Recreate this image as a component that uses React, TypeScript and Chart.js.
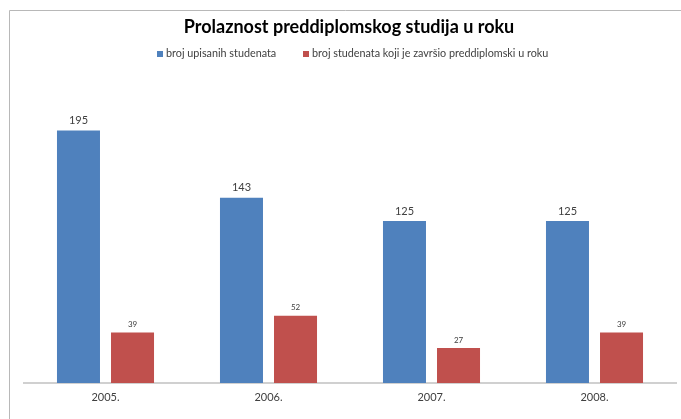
import React, { useEffect, useRef } from "react";
import { Chart, registerables } from "chart.js";

Chart.register(...registerables);

const TITLE = "Prolaznost preddiplomskog studija u roku";
const CATEGORIES = ["2005.", "2006.", "2007.", "2008."];
const SERIES_NAMES = ["broj upisanih studenata", "broj studenata koji je završio preddiplomski u roku"];
const ENROLLED = [195, 143, 125, 125];
const GRADUATED = [39, 52, 27, 39];
const COLORS = ["#4f81bd", "#c0504d"];

const FONT = "Lato, 'Open Sans', sans-serif";

const framePlugin = {
  id: "frame",
  beforeDraw(chart: any) {
    const ctx = chart.ctx;
    ctx.save();
    ctx.fillStyle = "#ffffff";
    ctx.fillRect(0, 0, chart.width, chart.height);
    ctx.strokeStyle = "#b8b8b8";
    ctx.lineWidth = 1;
    ctx.beginPath();
    ctx.moveTo(9.5, chart.height + 2);
    ctx.lineTo(9.5, 10.5);
    ctx.lineTo(chart.width + 2, 10.5);
    ctx.stroke();
    ctx.restore();
  },
};

const headerPlugin = {
  id: "header",
  afterDraw(chart: any) {
    const ctx = chart.ctx;
    ctx.save();
    ctx.fillStyle = "#000000";
    ctx.font = `bold 18px ${FONT}`;
    ctx.textAlign = "center";
    ctx.textBaseline = "alphabetic";
    ctx.fillText(TITLE, 349, 33);

    ctx.font = `10.8px ${FONT}`;
    ctx.textAlign = "left";
    ctx.textBaseline = "middle";
    const starts = [157, 303];
    chart.data.datasets.forEach((ds: any, i: number) => {
      const x = starts[i];
      ctx.fillStyle = ds.backgroundColor;
      ctx.fillRect(x, 51, 6, 6);
      ctx.fillStyle = "#404040";
      ctx.fillText(ds.label, x + 9, 54);
    });
    ctx.restore();
  },
};

const valueLabelPlugin = {
  id: "valueLabels",
  afterDatasetsDraw(chart: any) {
    const ctx = chart.ctx;
    ctx.save();
    ctx.fillStyle = "#404040";
    ctx.textAlign = "center";
    ctx.textBaseline = "middle";
    chart.data.datasets.forEach((ds: any, di: number) => {
      const meta = chart.getDatasetMeta(di);
      ctx.font = di === 0 ? `11px ${FONT}` : `8px ${FONT}`;
      const off = di === 0 ? 10 : 8;
      meta.data.forEach((bar: any, i: number) => {
        ctx.fillText(String(ds.data[i]), bar.x, bar.y - off);
      });
    });
    ctx.restore();
  },
};

export default function App() {
  const ref = useRef<HTMLCanvasElement>(null);
  useEffect(() => {
    if (!ref.current) return;
    const chart = new Chart(ref.current, {
      type: "bar",
      data: {
        labels: CATEGORIES,
        datasets: [
          { label: SERIES_NAMES[0], data: ENROLLED, backgroundColor: COLORS[0] },
          { label: SERIES_NAMES[1], data: GRADUATED, backgroundColor: COLORS[1] },
        ],
      },
      options: {
        responsive: false,
        animation: false,
        devicePixelRatio: 1,
        layout: { padding: { top: 98, left: 24, right: 5, bottom: 0 } },
        categoryPercentage: 0.663,
        barPercentage: 0.796,
        plugins: {
          legend: { display: false },
          title: { display: false },
          tooltip: { enabled: false },
        },
        scales: {
          x: {
            grid: { display: false, drawTicks: false },
            border: { display: true, color: "#d0d0d0", width: 2 },
            ticks: { color: "#404040", font: { family: FONT, size: 11 }, padding: 8 },
            afterFit(scale: any) {
              scale.height = 36;
            },
          },
          y: {
            display: false,
            min: 0,
            max: 220,
          },
        },
      } as any,
      plugins: [framePlugin, headerPlugin, valueLabelPlugin],
    });
    return () => chart.destroy();
  }, []);
  return (
    <div style={{ position: "fixed", left: 0, top: 0, width: 681, height: 419, background: "#fff" }}>
      <canvas ref={ref} width={681} height={419} style={{ display: "block" }} />
    </div>
  );
}
